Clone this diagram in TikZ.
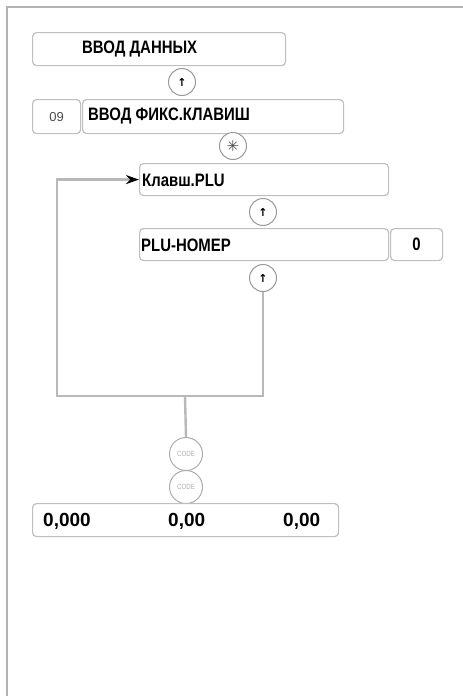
\documentclass[tikz,border=0pt]{standalone}
\usepackage{fontspec}
\setmainfont{Liberation Sans}[FakeStretch=0.83]
\newfontfamily\numfont{Liberation Sans}
\newfontfamily\symfont{DejaVu Sans}
\usetikzlibrary{arrows.meta}

\begin{document}
\begin{tikzpicture}[x=1pt,y=-1pt,
    box/.style={draw=gray!50,rounded corners=4pt,line width=1.2pt,inner sep=0pt,anchor=north west},
    key/.style={draw=gray!80,circle,line width=1pt,inner sep=0pt,minimum size=27pt,fill=white},
    code/.style={key,draw=gray!65,minimum size=33pt,font=\fontsize{7.5}{8}\selectfont,text=gray!60},
    txt/.style={anchor=west,inner sep=0pt,font=\fontsize{18}{20}\selectfont\bfseries},
    num/.style={anchor=west,inner sep=0pt,font=\numfont\fontsize{19}{20}\selectfont\bfseries},
    link/.style={draw=gray!55,line width=2.4pt}]
  \useasboundingbox (0,0) rectangle (463,696);
  % frame
  \draw[gray!60,line width=2pt] (463,7) -- (7,7) -- (7,696);

  % menu boxes
  \node[box,minimum width=253pt,minimum height=33pt] (dat) at (32,32) {};
  \node[txt] (datT) at (82,49) {ВВОД ДАННЫХ};
  \node[key] (k1) at (182,82) {\symfont\fontsize{11}{11}\selectfont\bfseries ↑};
  \node[box,minimum width=48pt,minimum height=34pt,font=\numfont\fontsize{13}{14}\selectfont,
    text=gray!60!black] (n09) at (32,99) {09};
  \node[box,minimum width=261pt,minimum height=34pt] (fix) at (82,99) {};
  \node[txt] (fixT) at (88,116) {ВВОД ФИКС.КЛАВИШ};
  \node[key] (k2) at (233,146) {\symfont\fontsize{15}{15}\selectfont\bfseries\color{gray!60!black}✳};
  \node[box,minimum width=249pt,minimum height=32pt] (klav) at (139,163) {};
  \node[txt] (klavT) at (142,180) {Клавш.PLU};
  \node[key] (k3) at (263,212) {\symfont\fontsize{11}{11}\selectfont\bfseries ↑};
  \node[box,minimum width=249pt,minimum height=32pt] (plu) at (139,228) {};
  \node[txt] (pluT) at (141,245) {PLU-НОМЕР};
  \node[box,minimum width=52pt,minimum height=32pt,font=\fontsize{18}{20}\selectfont\bfseries]
    (zero) at (390,228) {0};
  \node[key] (k4) at (263,278) {\symfont\fontsize{11}{11}\selectfont\bfseries ↑};

  % loop back
  \coordinate (loopL) at (57,396);
  \coordinate (loopR) at (k4 |- loopL);
  \coordinate (jn) at (185,396);
  \draw[link,-{Stealth[black,length=13pt,width=9pt]}]
    (k4.south) -- (loopR) -- (loopL) |- (klav.west);

  % code keys and display
  \node[code] (c1) at (186,454) {CODE};
  \node[code] (c2) at (186,487) {CODE};
  \draw[link] (jn) -- (c1.north);
  \node[box,minimum width=306pt,minimum height=33pt] (disp) at (32,503) {};
  \node[num] (qty) at (43,521) {0,000};
  \node[num] (prc) at (168,521) {0,00};
  \node[num] (sum) at (283,521) {0,00};
\end{tikzpicture}
\end{document}
